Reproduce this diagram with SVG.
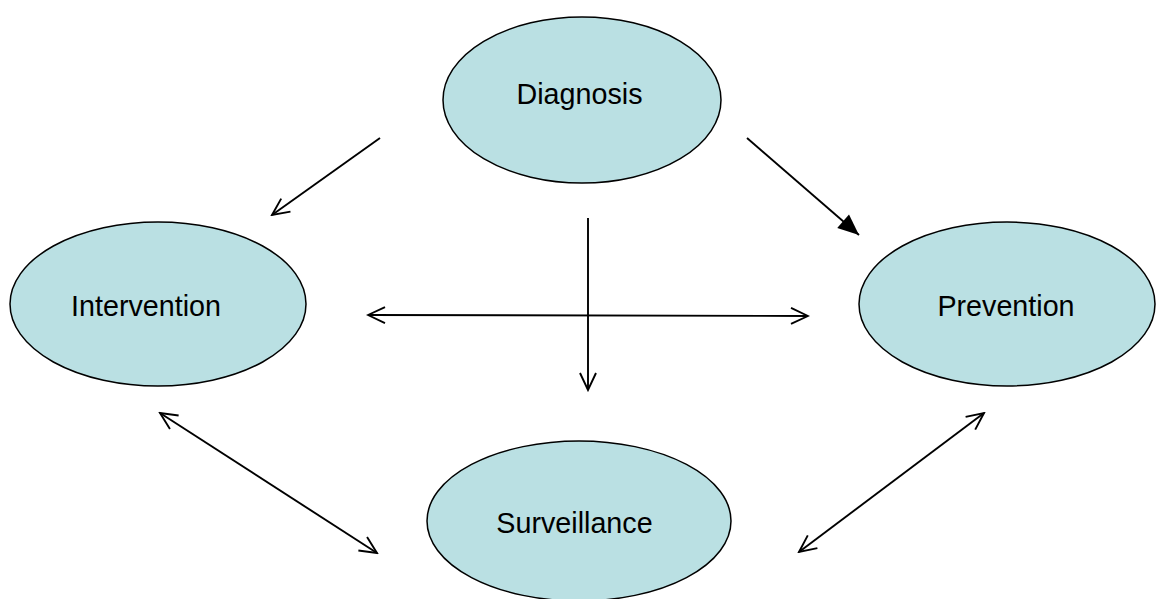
<svg xmlns="http://www.w3.org/2000/svg" width="1156" height="599" viewBox="0 0 1156 599">
<style>
.node ellipse{fill:#BAE0E3;stroke:#000;stroke-width:1.5}
.node text{font-family:"Liberation Sans",Arial,sans-serif;font-size:28.7px;fill:#000;text-anchor:middle}
.conn line{stroke:#000;stroke-width:1.9;fill:none}
</style>
<defs>
<marker id="open" markerUnits="userSpaceOnUse" viewBox="-20 -10 22 20" refX="0" refY="0" markerWidth="22" markerHeight="20" orient="auto-start-reverse">
<path d="M-17,-8 L0,0 L-17,8" fill="none" stroke="#000" stroke-width="1.9"/>
</marker>
<marker id="solid" markerUnits="userSpaceOnUse" viewBox="-22 -12 24 24" refX="0" refY="0" markerWidth="24" markerHeight="24" orient="auto">
<path d="M-21,-9 L0,0 L-21,9 Z" fill="#000"/>
</marker>
</defs>
<rect width="1156" height="599" fill="#fff"/>
<g id="diagnosis" class="node"><ellipse cx="582" cy="100" rx="139" ry="83"/><text x="579.5" y="104">Diagnosis</text></g>
<g id="intervention" class="node"><ellipse cx="158" cy="304" rx="148" ry="82"/><text x="146" y="316">Intervention</text></g>
<g id="prevention" class="node"><ellipse cx="1007" cy="304" rx="148" ry="82"/><text x="1006" y="316">Prevention</text></g>
<g id="surveillance" class="node"><ellipse cx="579" cy="521" rx="152" ry="80"/><text x="574.5" y="533">Surveillance</text></g>
<g id="connectors" class="conn">
<line x1="380" y1="138" x2="272" y2="215" marker-end="url(#open)"/>
<line x1="747" y1="138" x2="859" y2="235" marker-end="url(#solid)"/>
<line x1="588" y1="218" x2="588" y2="390" marker-end="url(#open)"/>
<line x1="368" y1="315" x2="808" y2="316" marker-start="url(#open)" marker-end="url(#open)"/>
<line x1="160" y1="413" x2="377" y2="553" marker-start="url(#open)" marker-end="url(#open)"/>
<line x1="984" y1="413" x2="799" y2="552" marker-start="url(#open)" marker-end="url(#open)"/>
</g>
</svg>
